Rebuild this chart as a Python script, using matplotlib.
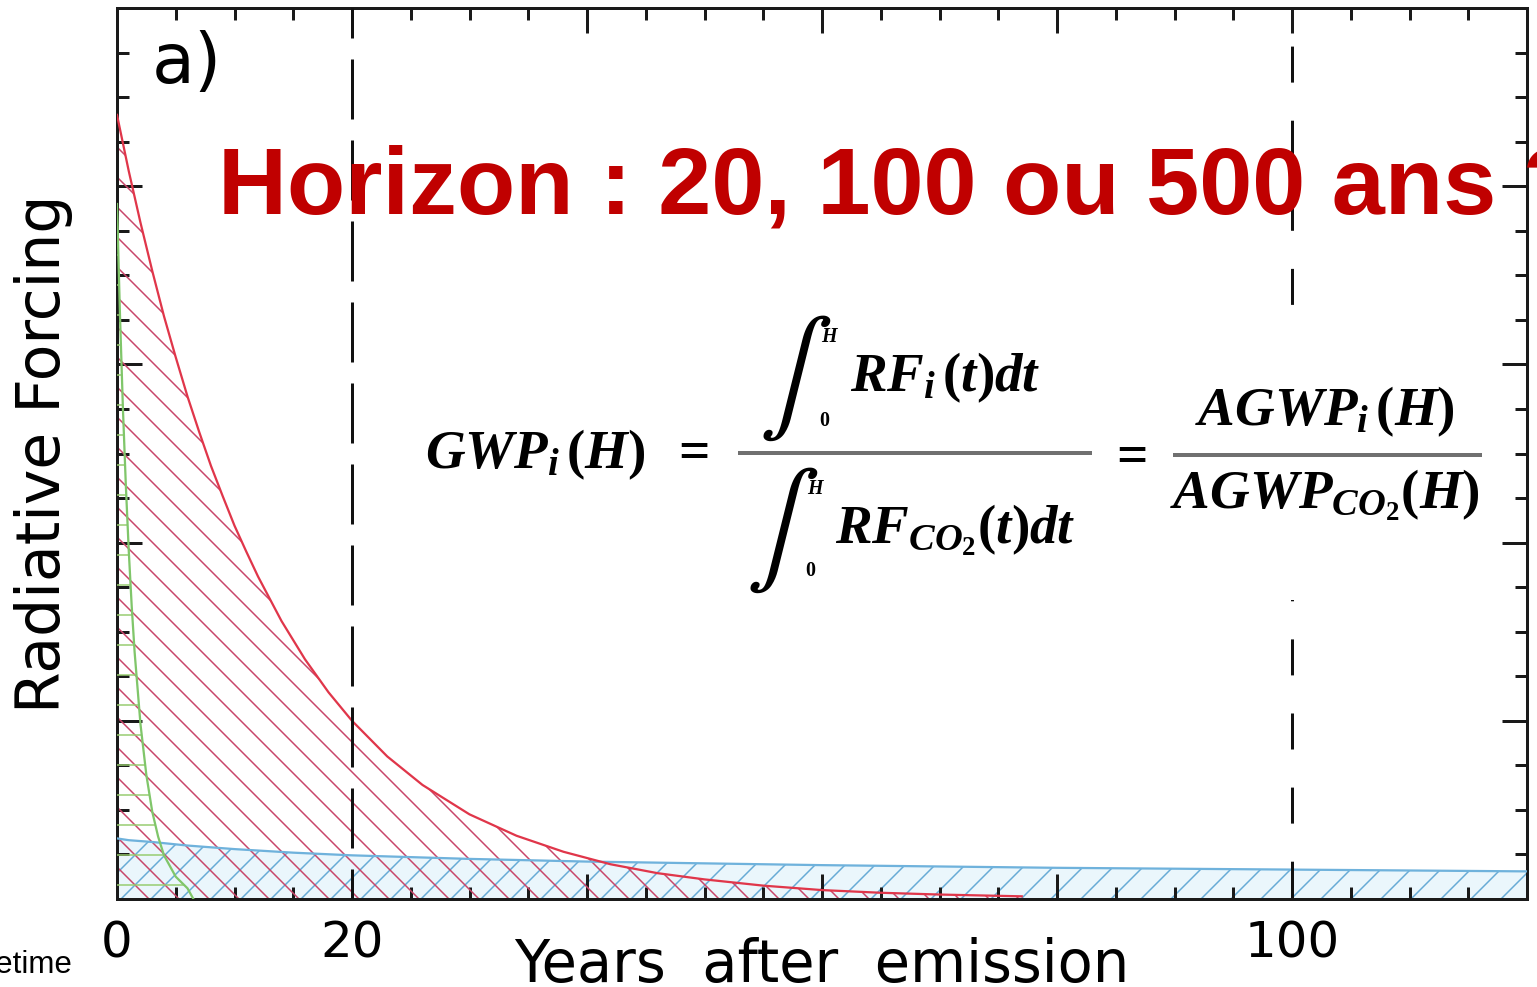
import matplotlib
matplotlib.use("Agg")
import matplotlib.pyplot as plt
from matplotlib.lines import Line2D
from matplotlib.patches import Rectangle
from matplotlib.ticker import MultipleLocator

# radiative forcing after a pulse emission (arbitrary units)
t_red = [0, 1, 2, 3, 4, 5, 6, 7, 8, 9, 10, 11, 12, 14, 16, 18, 20, 23, 26, 30,
         34, 38, 42, 46, 50, 55, 60, 65, 70, 77]
rf_red = [0.880, 0.817, 0.759, 0.705, 0.654, 0.608, 0.564, 0.524, 0.486, 0.452,
          0.419, 0.390, 0.362, 0.312, 0.269, 0.232, 0.200, 0.160, 0.128, 0.095,
          0.071, 0.053, 0.039, 0.029, 0.022, 0.015, 0.010, 0.007, 0.005, 0.003]

t_green = [0, 0.25, 0.5, 0.75, 1, 1.25, 1.5, 2, 2.5, 3, 3.5, 4, 5, 6, 6.5]
rf_green = [0.780, 0.657, 0.552, 0.465, 0.391, 0.329, 0.277, 0.196, 0.139,
            0.098, 0.070, 0.049, 0.025, 0.012, 0.0]

t_co2 = [0, 1, 3, 6, 10, 15, 20, 30, 40, 60, 80, 100, 120]
rf_co2 = [0.068, 0.066, 0.064, 0.060, 0.056, 0.052, 0.049, 0.045, 0.042,
          0.038, 0.035, 0.033, 0.031]

horizons = [20, 100]
xtick_vals = [0, 20, 40, 60, 80, 100, 120]
xtick_text = ["0", "20", "", "", "", "100", ""]

W, H, DPI = 1537, 987, 180


def fx(x):
    return x / W


def fy(y):
    return 1 - y / H


plt.rcParams["font.family"] = ["DejaVu Sans"]
plt.rcParams["hatch.linewidth"] = 0.6
plt.rcParams["mathtext.fontset"] = "custom"
plt.rcParams["mathtext.it"] = "Liberation Serif:italic:bold"
plt.rcParams["mathtext.rm"] = "Liberation Serif:bold"
plt.rcParams["mathtext.bf"] = "Liberation Serif:bold"

fig = plt.figure(figsize=(W / DPI, H / DPI), dpi=DPI)
ax = fig.add_axes([fx(117), fy(899), (1527 - 117) / W, (899 - 8) / H])

# shaded areas (integrals)
ax.fill_between(t_co2, 0, rf_co2, facecolor="#eaf6fc", edgecolor="#66aad6",
                hatch="//", linewidth=0, zorder=1)
ax.fill_between(t_red, 0, rf_red, facecolor="none", edgecolor="#c8466a",
                hatch="\\\\", linewidth=0, zorder=2)
ax.fill_between(t_green, 0, rf_green, facecolor="none", edgecolor="#96cc6e",
                hatch="-", linewidth=0, zorder=3)

ax.plot(t_co2, rf_co2, color="#6fb2dc", lw=0.9, zorder=4)
ax.plot(t_red, rf_red, color="#e0364a", lw=0.9, zorder=4)
ax.plot(t_green, rf_green, color="#80c66a", lw=0.9, zorder=4)

ax.set_xlim(0, 120)
ax.set_ylim(0, 1)

# time horizons
dash_styles = [(10, (20, 7)), (12, (12, 12.7))]
for h, ls in zip(horizons, dash_styles):
    ax.plot([h, h], ax.get_ylim()[::-1], color="#111111", lw=1.2,
            linestyle=ls, zorder=5)

ax.xaxis.set_major_locator(MultipleLocator(20))
ax.xaxis.set_minor_locator(MultipleLocator(5))
ax.yaxis.set_major_locator(MultipleLocator(0.2))
ax.yaxis.set_minor_locator(MultipleLocator(0.05))
ax.set_xticks(xtick_vals, xtick_text)
ax.tick_params(which="both", direction="in", top=True, right=True,
               width=1.2, color="#1a1a1a", labelleft=False, labelsize=20, pad=8)
ax.tick_params(which="major", length=10)
ax.tick_params(which="minor", length=4.8)
for s in ax.spines.values():
    s.set_linewidth(1.2)
    s.set_color("#1a1a1a")

ax.set_xlabel("Years  after  emission", fontsize=23)
ax.xaxis.label.set_va("baseline")
ax.xaxis.set_label_coords(0.5, -0.093)
ax.set_ylabel("Radiative Forcing", fontsize=24)
ax.yaxis.set_label_coords(-0.031, 0.5)

fig.text(fx(152), fy(63), "a)", fontsize=28, va="center", ha="left")

fig.text(fx(218), fy(213), "Horizon : 20, 100 ou 500 ans ?", color="#c00000",
         fontsize=38.2, fontweight="bold", family="Liberation Sans",
         ha="left", va="baseline", zorder=10)

fig.text(fx(72), fy(965), "Lifetime", family="Liberation Sans", fontsize=12.5,
         ha="right", va="center")

# pasted formula (white background hides the dashed line behind it)
fig.patches.append(Rectangle((fx(420), fy(600)), (1492 - 420) / W, (600 - 305) / H,
                             transform=fig.transFigure, facecolor="white",
                             edgecolor="none", zorder=1))

fs = 22
fig.text(fx(425), fy(455), r"$GWP_i\,(H)\;\;=$", fontsize=fs, ha="left", va="center", zorder=3)
fig.add_artist(Line2D([fx(740), fx(1090)], [fy(453), fy(453)], color="#707070", lw=1.6, zorder=3))
fig.text(fx(795), fy(378), r"$\int$", math_fontfamily="stix", fontsize=44, ha="center", va="center", zorder=3)
fig.text(fx(830), fy(336), r"$H$", fontsize=8, ha="center", va="center", zorder=3)
fig.text(fx(825), fy(420), r"$0$", fontsize=8, ha="center", va="center", zorder=3)
fig.text(fx(850), fy(378), r"$RF_i\,(t)dt$", fontsize=fs, ha="left", va="center", zorder=3)
fig.text(fx(782), fy(530), r"$\int$", math_fontfamily="stix", fontsize=44, ha="center", va="center", zorder=3)
fig.text(fx(816), fy(489), r"$H$", fontsize=8, ha="center", va="center", zorder=3)
fig.text(fx(811), fy(570), r"$0$", fontsize=8, ha="center", va="center", zorder=3)
fig.text(fx(835), fy(530), r"$RF_{CO_2}(t)dt$", fontsize=fs, ha="left", va="center", zorder=3)
fig.text(fx(1127), fy(455), r"$=$", fontsize=fs, ha="center", va="center", zorder=3)
fig.add_artist(Line2D([fx(1175), fx(1480)], [fy(455), fy(455)], color="#707070", lw=1.6, zorder=3))
fig.text(fx(1325), fy(412), r"$AGWP_i\,(H)$", fontsize=fs, ha="center", va="center", zorder=3)
fig.text(fx(1325), fy(495), r"$AGWP_{CO_2}(H)$", fontsize=fs, ha="center", va="center", zorder=3)

fig.savefig("out.png", dpi=DPI)
